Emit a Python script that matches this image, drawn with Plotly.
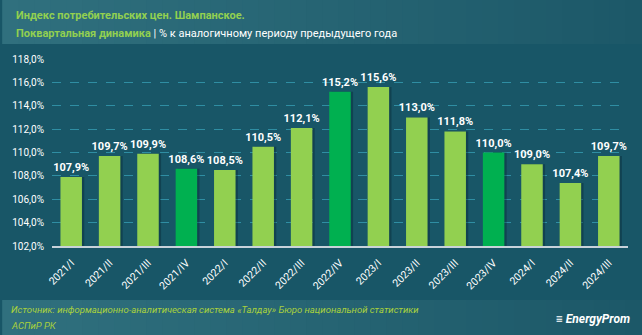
import plotly.graph_objects as go

categories = ["2021/I", "2021/II", "2021/III", "2021/IV", "2022/I", "2022/II", "2022/III", "2022/IV",
              "2023/I", "2023/II", "2023/III", "2023/IV", "2024/I", "2024/II", "2024/III"]
values = [107.9, 109.7, 109.9, 108.6, 108.5, 110.5, 112.1, 115.2, 115.6, 113.0, 111.8, 110.0, 109.0, 107.4, 109.7]
tick_vals = [102, 104, 106, 108, 110, 112, 114, 116, 118]

LIGHT = "#92d050"
DARK = "#00b050"
colors = [DARK if c.endswith("/IV") else LIGHT for c in categories]
labels = [f"{v:.1f}%".replace(".", ",") for v in values]
tick_text = [f"{v:.1f}%".replace(".", ",") for v in tick_vals]

FONT = "Roboto"

fig = go.Figure()
# shadow
fig.add_trace(go.Bar(x=categories, y=values, width=0.56, offset=-0.22,
                     marker=dict(color="rgba(5,30,40,0.35)", line=dict(width=0)),
                     hoverinfo="skip", showlegend=False))
fig.add_trace(go.Bar(x=categories, y=values, width=0.56, offset=-0.28,
                     marker=dict(color=colors, line=dict(width=0)),
                     text=labels, texttemplate="<b>%{text}</b>", textposition="outside",
                     cliponaxis=False, constraintext="none",
                     textfont=dict(color="white", size=11, family=FONT),
                     showlegend=False))

PH = 187.0
PW = 578.0
def px_x(x):
    return (x - 50) / PW
def px_y(y):
    return (246 - y) / PH

shapes = []
n = 40
c0 = (48, 112, 126)
c1 = (28, 88, 104)
for i in range(n):
    t = i / (n - 1)
    col = "rgb(%d,%d,%d)" % tuple(round(c0[k] + (c1[k] - c0[k]) * t) for k in range(3))
    xa = px_x(i * 642 / n)
    xb = px_x((i + 1) * 642 / n + 1)
    shapes.append(dict(type="rect", xref="paper", yref="paper", x0=xa, x1=xb,
                       y0=px_y(44), y1=px_y(-5), fillcolor=col, line=dict(width=0), layer="below"))
    shapes.append(dict(type="rect", xref="paper", yref="paper", x0=xa, x1=xb,
                       y0=px_y(340), y1=px_y(300), fillcolor=col, line=dict(width=0), layer="below"))

fig.update_layout(
    width=642, height=335,
    margin=dict(l=50, r=14, t=59, b=89),
    paper_bgcolor="#185667", plot_bgcolor="#185667",
    barmode="overlay",
    font=dict(family=FONT, color="white"),
    xaxis=dict(tickangle=-45, tickfont=dict(size=10.5, color="white"), showline=True,
               linecolor="#c8d2da", linewidth=1.5, ticks="", showgrid=False, ticklabelstandoff=5),
    yaxis=dict(range=[102, 118], tickvals=tick_vals, ticktext=tick_text, showgrid=True,
               gridcolor="#2f8ea3", griddash="dash", gridwidth=1, zeroline=False,
               tickfont=dict(size=10, color="white"), ticks="", ticklabelstandoff=7),
    shapes=shapes,
    annotations=[
        dict(xref="paper", yref="paper", x=px_x(12), y=px_y(16), xanchor="left", yanchor="middle",
             text="<b>Индекс потребительских цен. Шампанское.</b>", showarrow=False,
             font=dict(size=11, color=LIGHT, family=FONT)),
        dict(xref="paper", yref="paper", x=px_x(12), y=px_y(33), xanchor="left", yanchor="middle",
             text="<b><span style='color:#92d050'>Поквартальная динамика</span></b> | % к аналогичному периоду предыдущего года",
             showarrow=False, font=dict(size=11, color="white", family=FONT)),
        dict(xref="paper", yref="paper", x=px_x(7), y=px_y(309), xanchor="left", yanchor="middle",
             text="<i>Источник: информационно-аналитическая система «Талдау» Бюро национальной статистики</i>",
             showarrow=False, font=dict(size=9.5, color="#a9d13d", family=FONT)),
        dict(xref="paper", yref="paper", x=px_x(7), y=px_y(325), xanchor="left", yanchor="middle",
             text="<i>АСПиР РК</i>", showarrow=False, font=dict(size=9.5, color="#a9d13d", family=FONT)),
        dict(xref="paper", yref="paper", x=px_x(632), y=px_y(319), xanchor="right", yanchor="middle",
             text="<b><i>≡ EnergyProm</i></b>", showarrow=False, font=dict(size=12, color="white", family=FONT)),
    ],
)

fig.write_html("out.html")
